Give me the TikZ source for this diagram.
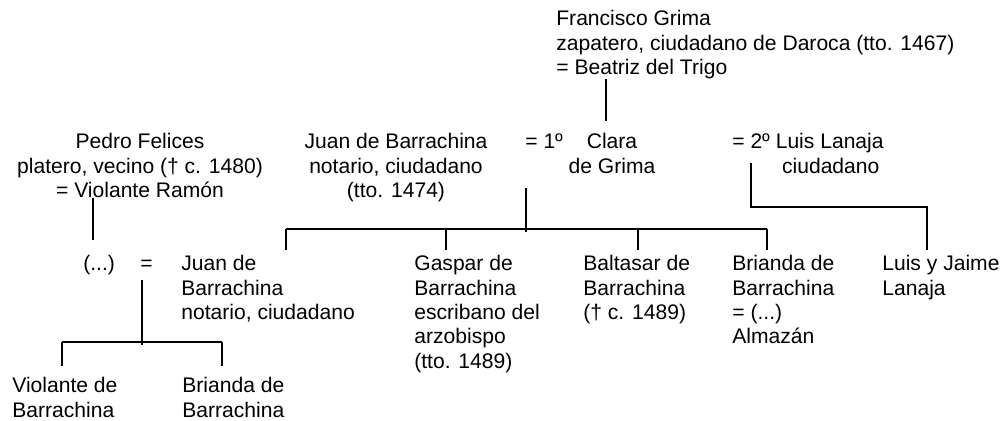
\documentclass[tikz,border=0pt]{standalone}
\usepackage{fontspec}
\setmainfont{Liberation Sans}
\usepackage{tikz}
\usetikzlibrary{calc}

\begin{document}
\begin{tikzpicture}[
  x=0.02cm, y=-0.02cm,
  person/.style={inner sep=0pt, anchor=north west, align=left, font=\fontsize{12}{13.9}\selectfont},
  personc/.style={person, anchor=north, align=center},
  line/.style={line width=1.1pt},
  drop/.style={line, shorten >=3pt}
]
\useasboundingbox (0,0) rectangle (1000,421);

% first generation
\node[person] (francisco) at (556,10) {Francisco Grima\\zapatero, ciudadano de Daroca (tto. 1467)\\= Beatriz del Trigo};

% second generation
\node[personc] (pedro) at (140,133) {Pedro Felices\\platero, vecino († c. 1480)\\= Violante Ramón};
\node[personc] (juan) at (396,133) {Juan de Barrachina\\notario, ciudadano\\(tto. 1474)};
\node[person] (eqa) at (525,133) {= 1º};
\node[personc] (clara) at (612,133) {Clara\\de Grima};
\node[person] (luis) at (732,133) {= 2º Luis Lanaja\\\hspace*{28.3pt}ciudadano};

% third generation
\node[person] (dots) at (83,255) {(...)};
\node[person] (eqb) at (140,255) {=\vphantom{(}};
\node[person] (juanh) at (181,255) {Juan de\\Barrachina\\notario, ciudadano};
\node[person] (gaspar) at (414,255) {Gaspar de\\Barrachina\\escribano del\\arzobispo\\(tto. 1489)};
\node[person] (baltasar) at (583,255) {Baltasar de\\Barrachina\\(† c. 1489)};
\node[person] (brianda) at (732,255) {Brianda de\\Barrachina\\= (...)\\Almazán};
\node[person] (luisjaime) at (882,255) {Luis y Jaime\\Lanaja};

% fourth generation
\node[person] (violante) at (12,377) {Violante de\\Barrachina};
\node[person] (briandab) at (182,377) {Brianda de\\Barrachina};

% descent lines
\coordinate (fg) at (606,121);
\draw[line] (francisco.south -| fg) -- (fg);

\coordinate (pf) at (93,240);
\draw[line] (pedro.south -| pf) -- (pf);

\coordinate (jc) at (526,188);
\coordinate (jcbar) at (526,232);
\draw[line] (jc) -- (jcbar);
\coordinate (d1) at (286,229);
\coordinate (d2) at (446,229);
\coordinate (d3) at (638,229);
\coordinate (d4) at (767,229);
\draw[line] (d1) -- (d4);
\foreach \d/\n in {d1/juanh, d2/gaspar, d3/baltasar, d4/brianda}
  \draw[drop] (\d) -- (\d |- \n.north);

\coordinate (ll) at (751,163);
\coordinate (lj) at (927,207);
\draw[drop] (ll) |- (lj) -- (lj |- luisjaime.north);

\coordinate (hb) at (142,280);
\coordinate (hbar) at (142,345);
\draw[line] (hb) -- (hbar);
\coordinate (e1) at (62,342);
\coordinate (e2) at (222,342);
\draw[line] (e1) -- (e2);
\foreach \d/\n in {e1/violante, e2/briandab}
  \draw[line, shorten >=6.5pt] (\d) -- (\d |- \n.north);
\end{tikzpicture}
\end{document}
